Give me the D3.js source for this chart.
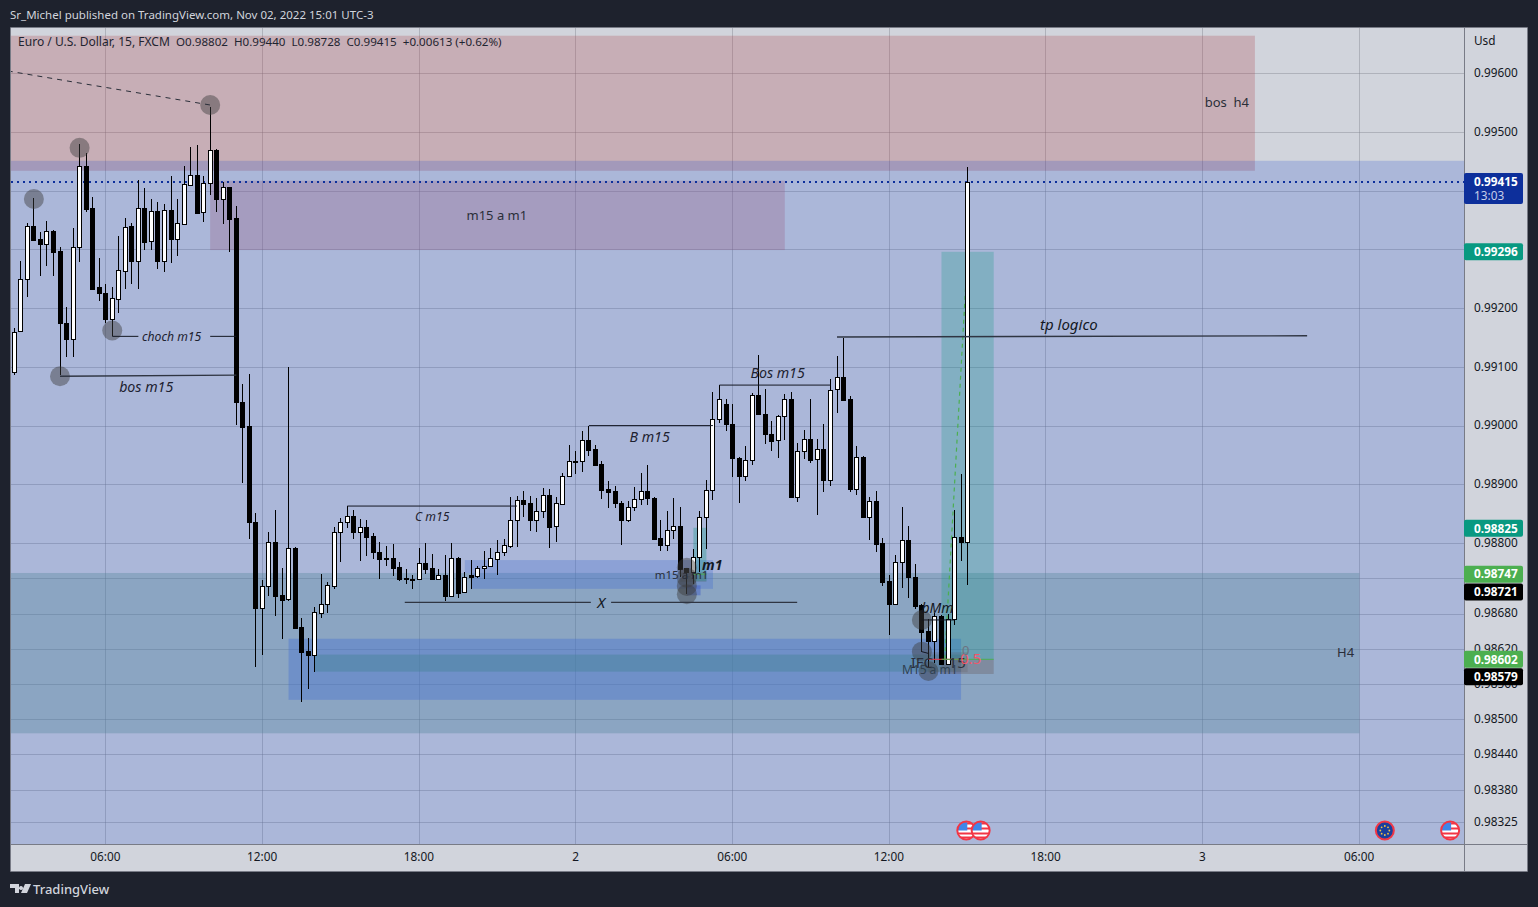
<!DOCTYPE html>
<html><head><meta charset="utf-8">
<script src="https://cdn.jsdelivr.net/npm/d3@7/dist/d3.min.js"></script>
<style>
html,body{margin:0;padding:0;background:#1e222d;overflow:hidden}
svg{display:block}
text{font-family:"Noto Sans","Open Sans",sans-serif}
</style></head><body><svg id="c" width="1538" height="907"></svg>
<script>
// ---- OHLC series, one value per 15-minute bar ----
const opens=[.99092,.99161,.99249,.99340,.99318,.99310,.99331,.99297,.99175,.99148,
.99305,.99442,.99371,.99236,.99226,.99182,.99216,.99264,.99340,.99281,
.99371,.99314,.99366,.99281,.99367,.99317,.99344,.99410,.99426,.99363,
.99413,.99469,.99386,.99406,.99354,.99041,.98999,.98836,.98690,.98726,
.98801,.98712,.98704,.98791,.98657,.98616,.98610,.98681,.98696,.98727,
.98818,.98836,.98846,.98819,.98827,.98812,.98785,.98774,.98774,.98759,
.98740,.98739,.98738,.98766,.98757,.98738,.98745,.98709,.98774,.98716,
.98746,.98744,.98757,.98761,.98773,.98784,.98795,.98839,.98874,.98868,
.98840,.98854,.98882,.98829,.98867,.98915,.98938,.98939,.98975,.98960,
.98934,.98892,.98888,.98869,.98840,.98861,.98875,.98888,.98876,.98808,
.98797,.98823,.98829,.98757,.98751,.98776,.98844,.98890,.99011,.99036,
.99002,.98944,.98915,.98941,.99052,.99019,.98985,.98975,.99016,.99045,
.98879,.98956,.98978,.98943,.98960,.98908,.99062,.99083,.99045,.98892,
.98946,.98845,.98871,.98800,.98735,.98697,.98767,.98805,.98743,.98694,
.98650,.98634,.98675,.98594,.98670,.98810,.98802];
const highs=[.99166,.99280,.99345,.99387,.99329,.99348,.99333,.99304,.99202,.99336,
.99479,.99464,.99389,.99285,.99241,.99236,.99323,.99353,.99345,.99418,
.99405,.99386,.99381,.99377,.99425,.99386,.99442,.99474,.99478,.99425,
.99542,.99471,.99415,.99407,.99374,.99071,.99088,.98852,.98737,.98818,
.98856,.98757,.99099,.98793,.98672,.98638,.98691,.98747,.98734,.98828,
.98843,.98863,.98856,.98841,.98840,.98817,.98801,.98795,.98798,.98768,
.98755,.98746,.98792,.98800,.98781,.98755,.98779,.98800,.98776,.98751,
.98771,.98761,.98786,.98791,.98806,.98807,.98878,.98880,.98889,.98880,
.98877,.98893,.98892,.98879,.98919,.98967,.98956,.98991,.99000,.98967,
.98940,.98906,.98898,.98872,.98872,.98895,.98919,.98933,.98878,.98839,
.98854,.98876,.98861,.98757,.98790,.98854,.98907,.99057,.99069,.99046,
.99037,.98947,.98965,.99055,.99120,.99062,.99007,.99018,.99053,.99058,
.98970,.98993,.99045,.98977,.99003,.99079,.99119,.99149,.99051,.98965,
.98948,.98878,.98888,.98808,.98745,.98779,.98861,.98829,.98764,.98696,
.98671,.98681,.98677,.98679,.98856,.98918,.99440];
const lows=[.99086,.99161,.99219,.99315,.99255,.99272,.99254,.99086,.99117,.99116,
.99279,.99364,.99231,.99213,.99175,.99153,.99192,.99233,.99242,.99233,
.99299,.99299,.99267,.99262,.99277,.99289,.99344,.99408,.99362,.99346,
.99393,.99364,.99343,.99296,.99001,.98903,.98807,.98589,.98610,.98709,
.98675,.98637,.98702,.98654,.98530,.98552,.98581,.98672,.98681,.98721,
.98768,.98825,.98807,.98769,.98778,.98773,.98739,.98761,.98744,.98736,
.98731,.98722,.98737,.98748,.98737,.98737,.98701,.98708,.98707,.98715,
.98722,.98740,.98739,.98760,.98746,.98778,.98792,.98794,.98845,.98820,
.98818,.98842,.98791,.98801,.98864,.98915,.98918,.98921,.98949,.98932,
.98875,.98860,.98860,.98797,.98835,.98855,.98865,.98865,.98807,.98787,
.98787,.98807,.98742,.98713,.98730,.98751,.98790,.98873,.99004,.98991,
.98913,.98869,.98906,.98933,.99018,.98968,.98956,.98945,.98976,.98878,
.98870,.98943,.98937,.98847,.98887,.98898,.99022,.99042,.98887,.98882,
.98844,.98805,.98784,.98726,.98644,.98696,.98724,.98707,.98688,.98615,
.98589,.98596,.98594,.98594,.98660,.98770,.98728];
const closes=[.99160,.99249,.99340,.99316,.99310,.99331,.99296,.99174,.99148,.99305,
.99442,.99369,.99232,.99225,.99182,.99217,.99265,.99339,.99280,.99370,
.99313,.99365,.99280,.99367,.99317,.99345,.99411,.99426,.99362,.99413,
.99469,.99386,.99406,.99352,.99040,.98998,.98835,.98690,.98726,.98801,
.98710,.98703,.98791,.98656,.98615,.98610,.98682,.98696,.98728,.98818,
.98836,.98846,.98819,.98827,.98811,.98784,.98772,.98772,.98758,.98739,
.98738,.98738,.98766,.98756,.98738,.98745,.98709,.98774,.98715,.98743,
.98743,.98757,.98761,.98774,.98784,.98796,.98839,.98874,.98867,.98840,
.98854,.98881,.98828,.98868,.98915,.98939,.98939,.98975,.98959,.98933,
.98891,.98887,.98869,.98840,.98861,.98875,.98888,.98876,.98807,.98797,
.98823,.98829,.98756,.98750,.98776,.98844,.98890,.99011,.99045,.99002,
.98944,.98915,.98941,.99052,.99019,.98985,.98974,.99016,.99045,.98879,
.98956,.98978,.98942,.98960,.98908,.99061,.99083,.99044,.98892,.98946,
.98845,.98871,.98799,.98734,.98697,.98767,.98805,.98743,.98693,.98649,
.98634,.98675,.98594,.98671,.98810,.98802,.99415];

// ---- axes ----
const priceTicks=[.996,.995,.994,.993,.992,.991,.99,.989,.988,.9874,.9868,.9862,.9856,.985,.9844,.9838,.98325];
const hiddenPriceLabels=[.994,.993,.9874];
const timeTickBars=[14,38,62,86,110,134,158,182,206];
const timeTickLabels=["06:00","12:00","18:00","2","06:00","12:00","18:00","3","06:00"];

// ---- drawing tools: zones in bar / price terms ----
const zoneStart=[-5,-5,30,-5,42,46,69,70,142,142,104,102,103,140];
const zoneEnd=[190,400,118,206,145,145,107,107,150,150,106,106,105.1,146];
const zoneTop=[.99664,.99451,.99417,.98749,.98637,.98610,.98771,.98749,.99296,.98602,.98826,.98750,.98728,.98614];
const zoneBottom=[.99434,.97,.99299,.98476,.98533,.98581,.98749,.98722,.98602,.98577,.98735,.98734,.98711,.98580];
const zoneFill=["rgba(173,60,68,.25)","rgba(19,72,205,.2)","rgba(151,87,127,.28)","rgba(80,133,151,.35)","rgba(71,113,209,.4)","rgba(65,130,145,.4)","rgba(71,113,209,.3)","rgba(71,113,209,.36)","rgba(8,153,129,.25)","rgba(100,80,80,.3)","rgba(8,153,129,.3)","rgba(90,90,90,.25)","rgba(50,80,200,.4)","rgba(90,80,80,.2)"];

const lineBars=[[-1,30],[15,19],[30,34],[7,34],[51,77],[88,107],[108,125],[126,198],[59.8,88.3],[91.4,119.9],[139,144],[139,140],[140,146],[142,150],[104,106]];
const linePrices=[[.99604,.99546],[.99152,.99152],[.99152,.99152],[.99084,.99086],[.98863,.98863],[.99000,.99000],[.99069,.99069],[.99151,.99153],[.98699,.98699],[.98699,.98699],[.98669,.98669],[.98615,.98612],[.98602,.98602],[.98602,.98602],[.98747,.98747]];
const lineColors=["#2a2e39","#131722","#131722","#2f3542","#131722","#131722","#131722","#2f3542","#2f3542","#2f3542","#131722","#131722","#f23645","#4caf50","#4caf50"];

const circleBars=[10,3,30,15,7,103,103,103,103,139,139,140];
const circlePrices=[.99473,.99386,.99546,.99162,.99084,.98758,.98741,.98727,.98713,.98669,.98615,.98582];

const noteTexts=["bos  h4","m15 a m1","choch m15","bos m15","C m15","B m15","Bos m15","tp logico","X","H4","m15 a m1","m1","bMm","IFC","15","M15 a m1","0.5","0"];
const noteBars=[185.7,73.9,24.1,20.2,64,97.3,116.9,161.5,89.9,203.9,102.2,106.9,141.4,139,144.4,140.2,146.5,145.7];
const notePrices=[.99551,.99359,.99151,.99066,.98846,.98981,.99090,.99173,.98700,.98614,.98747,.98764,.98691,.98597,.98597,.98585,.98604,.98618];
const noteClass=["p","p","i1","i2","i1","i2","i2","i3","i3","p","s","b","i4","q","q","d","r","g"];

const tagPrices=[.99296,.98825,.98747,.98721,.98602,.98579];
const tagNudge=[0,0,0,2.5,0,4];
const tagColors=["#089981","#089981","#4caf50","#000","#4caf50","#000"];
const lastPrice=.99415;
const countdown="13:03";
const flagBars=[145.8,148,209.9,219.9];
const flagKinds=["us","us","eu","us"];
const headerText="Sr_Michel published on TradingView.com, Nov 02, 2022 15:01 UTC-3";
const legendTitle="Euro / U.S. Dollar, 15, FXCM";
const legendValues="O0.98802  H0.99440  L0.98728  C0.99415  +0.00613 (+0.62%)";
const brandText="TradingView";

// ---- layout ----
const L=11,R=1464,T=27,B=844,AR=1527,AB=871;
const x=d3.scaleLinear().domain([0,146]).range([14.3,967.6]);
const y=d3.scaleLinear().domain([.996,.985]).range([73.3,719.2]);
const svg=d3.select("#c");
const dark="#131722";

svg.append("defs").append("clipPath").attr("id","pane").append("rect").attr("x",L).attr("y",T).attr("width",R-L).attr("height",B-T);
svg.append("rect").attr("x",L).attr("y",T).attr("width",AR-L).attr("height",AB-T).attr("fill","#d1d4dc");

const pane=svg.append("g").attr("clip-path","url(#pane)");
// grid
pane.append("g").selectAll("line").data(priceTicks).join("line")
 .attr("x1",L).attr("x2",R).attr("y1",d=>Math.round(y(d))+.5).attr("y2",d=>Math.round(y(d))+.5)
 .attr("stroke","rgba(120,123,134,.38)");
pane.append("g").selectAll("line").data(timeTickBars).join("line")
 .attr("y1",T).attr("y2",B).attr("x1",d=>Math.floor(x(d))+.5).attr("x2",d=>Math.floor(x(d))+.5)
 .attr("stroke","rgba(120,123,134,.38)");
// zones
pane.append("g").selectAll("rect").data(zoneFill).join("rect")
 .attr("x",(d,i)=>x(zoneStart[i])).attr("width",(d,i)=>x(zoneEnd[i])-x(zoneStart[i]))
 .attr("y",(d,i)=>y(zoneTop[i])).attr("height",(d,i)=>y(zoneBottom[i])-y(zoneTop[i]))
 .attr("fill",d=>d);
// fib dashed diagonal
pane.append("line").attr("x1",x(142.5)).attr("y1",y(.98602)).attr("x2",x(146)).attr("y2",y(.99296))
 .attr("stroke","#4caf50").attr("stroke-width",1.2).attr("stroke-dasharray","4 4");
// last price
pane.append("line").attr("x1",L).attr("x2",R).attr("y1",y(lastPrice)).attr("y2",y(lastPrice))
 .attr("stroke","#0d2f9b").attr("stroke-width",2).attr("stroke-dasharray","2 4");
// candles
const idx=d3.range(opens.length), cg=pane.append("g").attr("shape-rendering","crispEdges");
cg.selectAll("line").data(idx).join("line")
 .attr("x1",i=>Math.floor(x(i))+.5).attr("x2",i=>Math.floor(x(i))+.5)
 .attr("y1",i=>y(highs[i])).attr("y2",i=>y(lows[i])).attr("stroke","#000");
cg.selectAll("rect").data(idx).join("rect")
 .attr("x",i=>Math.floor(x(i))-1.5).attr("width",4)
 .attr("y",i=>Math.round(y(Math.max(opens[i],closes[i])))+.5)
 .attr("height",i=>Math.max(1,Math.round(y(Math.min(opens[i],closes[i])))-Math.round(y(Math.max(opens[i],closes[i])))))
 .attr("fill",i=>closes[i]>=opens[i]?"#fff":"#000").attr("stroke","#000");
// circles
pane.append("g").selectAll("circle").data(circleBars).join("circle")
 .attr("cx",d=>x(d)).attr("cy",(d,i)=>y(circlePrices[i])).attr("r",10).attr("fill","rgba(60,60,60,.45)");
// lines
pane.append("g").selectAll("line").data(lineBars).join("line")
 .attr("x1",d=>x(d[0])).attr("x2",d=>x(d[1]))
 .attr("y1",(d,i)=>y(linePrices[i][0])).attr("y2",(d,i)=>y(linePrices[i][1]))
 .attr("stroke",(d,i)=>lineColors[i]).attr("stroke-width",(d,i)=>i==3||i==7||i==8||i==9?1.4:1)
 .attr("stroke-dasharray",(d,i)=>i==0?"5 5":null);
// notes
const noteStyle={p:{s:13,f:"#2a2e39"},q:{s:15,f:"#2a2e39"},i1:{s:12.2,i:1,f:"#1d2230"},i2:{s:14.2,i:1,f:"#1d2230"},i3:{s:15,i:1,f:"#131722"},i4:{s:14,i:1,f:"#131722"},
 s:{s:11.5,f:"#2a2e39"},b:{s:14,i:1,w:700,f:"#131722"},d:{s:12,f:"#2f4050"},r:{s:15,f:"#f2566a"},g:{s:13,f:"#6d7380"}};
pane.append("g").selectAll("text").data(noteTexts).join("text")
 .attr("x",(d,i)=>x(noteBars[i])).attr("y",(d,i)=>y(notePrices[i]))
 .attr("text-anchor","middle").attr("dominant-baseline","central").style("white-space","pre")
 .attr("font-size",(d,i)=>noteStyle[noteClass[i]].s).attr("fill",(d,i)=>noteStyle[noteClass[i]].f)
 .attr("font-style",(d,i)=>noteStyle[noteClass[i]].i?"italic":null)
 .attr("font-weight",(d,i)=>noteStyle[noteClass[i]].w||null)
 .text(d=>d);
// flags
const flags=pane.append("g");
flagBars.forEach((b,k)=>{
 const cx=x(b),cy=830.5,r=9,g=flags.append("g");
 const id="fc"+k;
 g.append("clipPath").attr("id",id).append("circle").attr("cx",cx).attr("cy",cy).attr("r",r);
 if(flagKinds[k]=="us"){
  g.append("circle").attr("cx",cx).attr("cy",cy).attr("r",r).attr("fill","#fff");
  const c=g.append("g").attr("clip-path",`url(#${id})`);
  [-7,-2,3,7].forEach(o=>c.append("rect").attr("x",cx-r).attr("y",cy+o-1).attr("width",2*r).attr("height",2).attr("fill","#f23645"));
  c.append("rect").attr("x",cx-r).attr("y",cy-r).attr("width",r+1).attr("height",r).attr("fill","#3f86e8");
  g.append("circle").attr("cx",cx).attr("cy",cy).attr("r",r).attr("fill","none").attr("stroke","#f23645").attr("stroke-width",2);
 }else{
  g.append("circle").attr("cx",cx).attr("cy",cy).attr("r",r).attr("fill","#1a3f9c");
  d3.range(8).forEach(a=>g.append("circle").attr("cx",cx+4.5*Math.cos(a*Math.PI/4)).attr("cy",cy+4.5*Math.sin(a*Math.PI/4)).attr("r",.9).attr("fill","#f6c343"));
  g.append("circle").attr("cx",cx).attr("cy",cy).attr("r",r).attr("fill","none").attr("stroke","#f23645").attr("stroke-width",2);
 }
});
// axes
const priceFmt=d3.format(".5f");
const yAxis=d3.axisRight(y).tickValues(priceTicks).tickFormat(d=>hiddenPriceLabels.includes(d)?"":priceFmt(d)).tickSize(0).tickPadding(10);
const ya=svg.append("g").attr("transform",`translate(${R},-0.4)`).call(yAxis);
const xAxis=d3.axisBottom(x).tickValues(timeTickBars).tickFormat((d,i)=>timeTickLabels[i]).tickSize(0).tickPadding(9);
const xa=svg.append("g").attr("transform",`translate(-0.8,${B})`).call(xAxis);
[ya,xa].forEach(a=>{a.select(".domain").remove();a.selectAll("text").attr("font-size",11.8).attr("fill",dark).attr("font-family",'"Noto Sans"');});
svg.append("text").attr("x",1474).attr("y",45).attr("font-size",11.8).attr("fill",dark).text("Usd");
// frame
const border="#787b86";
svg.append("path").attr("d",`M${L-.5},${T+.5}H${AR+.5}V${AB+.5}H${L-.5}Z M${R+.5},${T}V${AB} M${L},${B+.5}H${AR}`)
 .attr("fill","none").attr("stroke",border).attr("stroke-width",1);
// price tags
const tags=svg.append("g");
tagPrices.forEach((p,i)=>{
 const cy=y(p)+tagNudge[i];
 tags.append("rect").attr("x",R).attr("y",cy-8.5).attr("width",59).attr("height",17).attr("rx",2).attr("fill",tagColors[i]);
 tags.append("text").attr("x",R+10).attr("y",cy+4.2).attr("font-size",11.8).attr("font-weight",700).attr("fill","#fff").text(priceFmt(p));
});
tags.append("rect").attr("x",R).attr("y",173).attr("width",59).attr("height",31).attr("rx",2).attr("fill","#0d2f9b");
tags.append("text").attr("x",R+10).attr("y",186).attr("font-size",11.8).attr("font-weight",700).attr("fill","#fff").text(priceFmt(lastPrice));
tags.append("text").attr("x",R+10).attr("y",200).attr("font-size",11.8).attr("fill","#c5cde8").text(countdown);
// header, legend, brand
svg.append("text").attr("x",10).attr("y",19).attr("font-size",11.5).attr("fill","#d1d4dc").text(headerText);
svg.append("text").attr("x",18).attr("y",46).attr("font-size",12.05).attr("fill","#1f2430").text(legendTitle);
svg.append("text").attr("x",176).attr("y",46).attr("font-size",11.6).attr("fill","#1f2430").style("white-space","pre").text(legendValues);
svg.append("path").attr("d","M10,884H19V893H15V888H10Z M21,886a2,2 0 1,0 .01,0 M25,884H31L27,893H21Z").attr("fill","#d1d4dc").attr("fill-rule","evenodd");
svg.append("text").attr("x",33).attr("y",894).attr("font-size",13).attr("font-weight",500).attr("fill","#d1d4dc").text(brandText);
</script></body></html>
